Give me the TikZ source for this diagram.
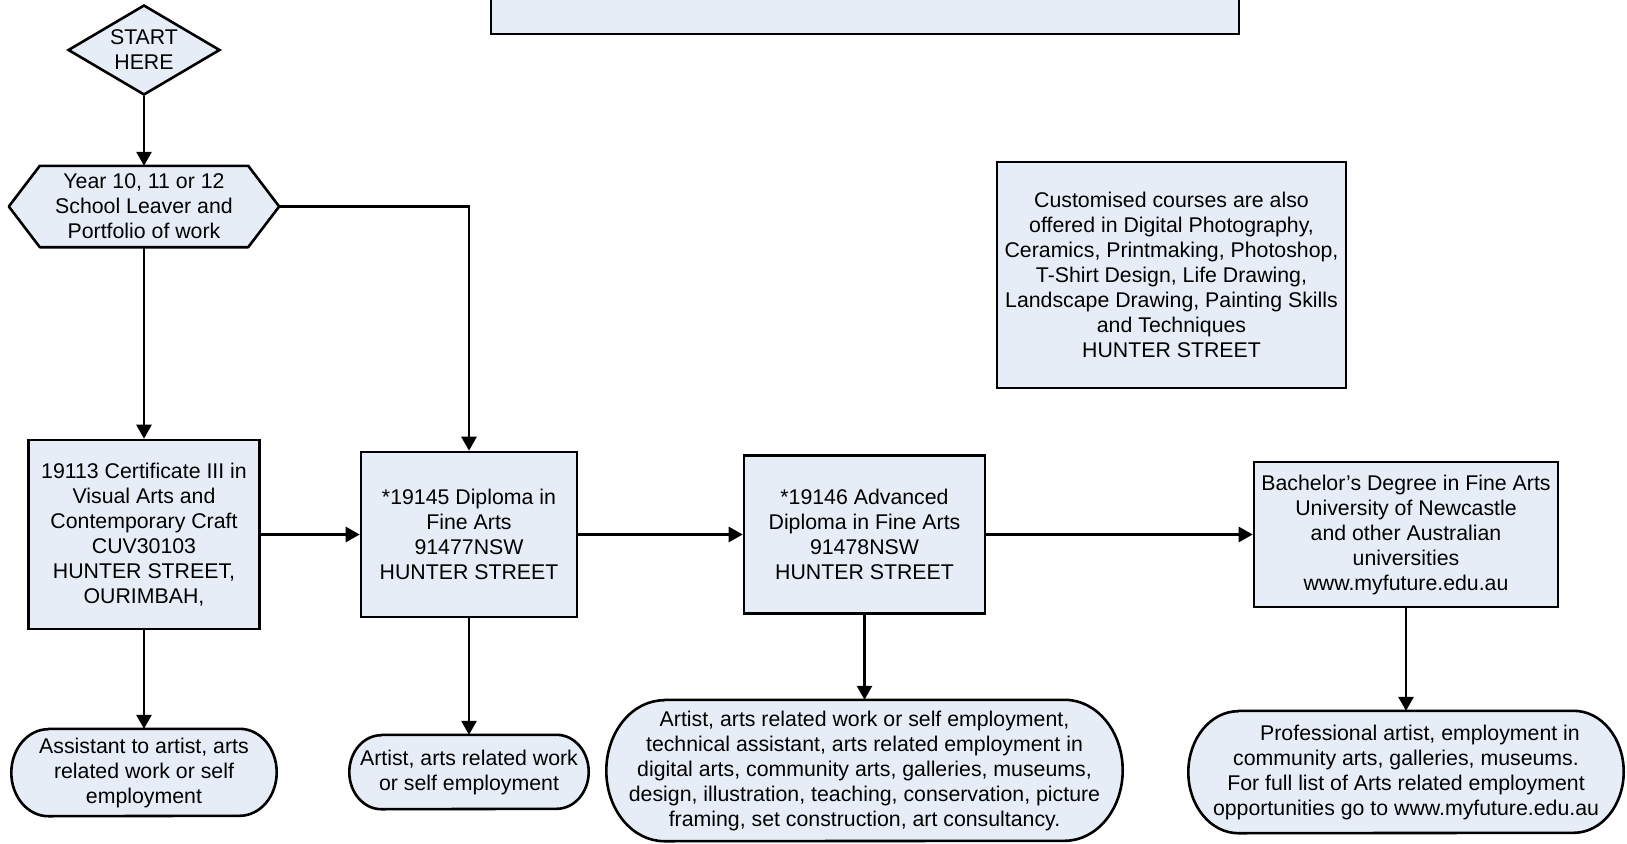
\documentclass[tikz,border=0pt]{standalone}
\usepackage{fontspec}
\setmainfont{Liberation Sans}
\usetikzlibrary{shapes.geometric, arrows.meta, backgrounds}
\definecolor{boxfill}{RGB}{231,237,247}
\tikzset{
  base/.style={font=\fontsize{21.3}{25}\selectfont, align=center, inner sep=0pt},
  box/.style={base, rectangle, draw=black, fill=boxfill, line width=2.6pt},
  txt/.style={base, rectangle},
  startshape/.style={base, diamond, draw=black, fill=boxfill, line width=2.6pt, aspect=1.69, minimum width=152pt, minimum height=90pt},
  conn/.style={line width=2.7pt, -{Triangle[width=15pt,length=14pt]}},
  outline/.style={draw=black, fill=boxfill, line width=2.6pt, line join=round},
}
\newcommand\termpath[3]{%
  \path[outline] ([xshift=#2pt]#1.north west) -- ([xshift=-#2pt]#1.north east)
    arc[start angle=90, end angle=-90, x radius=#2pt, y radius=#3pt]
    -- ([xshift=#2pt]#1.south west)
    arc[start angle=270, end angle=90, x radius=#2pt, y radius=#3pt] -- cycle;}
\begin{document}
\begin{tikzpicture}[x=1pt,y=1pt]
\useasboundingbox (0,0) rectangle (1627,-843);
\clip (0,0) rectangle (1627,-843);

% top (cut off) box
\node[box, minimum width=748pt, minimum height=54pt] (top) at (865,-7) {};

\node[startshape] (start) at (144,-50) {START\\HERE};

\node[txt, minimum width=270pt, minimum height=81pt] (hex) at (144,-206.5)
  {Year 10, 11 or 12\\School Leaver and\\Portfolio of work};

\node[box, minimum width=349pt, minimum height=226pt] (cust) at (1171.5,-275)
  {Customised courses are also\\offered in Digital Photography,\\Ceramics, Printmaking, Photoshop,\\T-Shirt Design, Life Drawing,\\Landscape Drawing, Painting Skills\\and Techniques\\HUNTER STREET};

\node[box, minimum width=231pt, minimum height=189pt] (cert) at (144,-534.5)
  {19113 Certificate III in\\Visual Arts and\\Contemporary Craft\\CUV30103\\HUNTER STREET,\\OURIMBAH,};

\node[box, minimum width=216pt, minimum height=165pt] (dip) at (469,-534.5)
  {*19145 Diploma in\\Fine Arts\\91477NSW\\HUNTER STREET};

\node[box, minimum width=241pt, minimum height=158pt] (adv) at (864.5,-534.5)
  {*19146 Advanced\\Diploma in Fine Arts\\91478NSW\\HUNTER STREET};

\node[box, minimum width=304pt, minimum height=145pt] (bach) at (1406,-534.5)
  {Bachelor's Degree in Fine Arts\\University of Newcastle\\and other Australian\\universities\\www.myfuture.edu.au};

\node[txt, minimum width=265pt, minimum height=87pt] (t1) at (144,-772.5)
  {Assistant to artist, arts\\related work or self\\employment};

\node[txt, minimum width=239pt, minimum height=74pt] (t2) at (469,-772)
  {Artist, arts related work\\or self employment};

\node[txt, minimum width=516pt, minimum height=141pt] (t3) at (864.5,-770.5)
  {Artist, arts related work or self employment,\\technical assistant, arts related employment in\\digital arts, community arts, galleries, museums,\\design, illustration, teaching, conservation, picture\\framing, set construction, art consultancy.};

\node[txt, minimum width=435pt, minimum height=122pt] (t4) at (1406,-772)
  {\hspace*{28pt}Professional artist, employment in\\community arts, galleries, museums.\\For full list of Arts related employment\\opportunities go to www.myfuture.edu.au};

\begin{scope}[on background layer]
  \path[outline] (hex.west) -- ([xshift=31pt]hex.north west) -- ([xshift=-31pt]hex.north east)
    -- (hex.east) -- ([xshift=-31pt]hex.south east) -- ([xshift=31pt]hex.south west) -- cycle;
  \termpath{t1}{37}{43.5}
  \termpath{t2}{32}{37}
  \termpath{t3}{58}{70.5}
  \termpath{t4}{50}{61}
\end{scope}

\draw[conn] (start.south) -- (hex.north);
\draw[conn] (hex.south) -- (cert.north);
\draw[conn] (hex.east) -| (dip.north);
\draw[conn] (cert.east) -- (dip.west);
\draw[conn] (dip.east) -- (adv.west);
\draw[conn] (adv.east) -- (bach.west);
\draw[conn] (cert.south) -- (t1.north);
\draw[conn] (dip.south) -- (t2.north);
\draw[conn] (adv.south) -- (t3.north);
\draw[conn] (bach.south) -- (t4.north);
\end{tikzpicture}
\end{document}
